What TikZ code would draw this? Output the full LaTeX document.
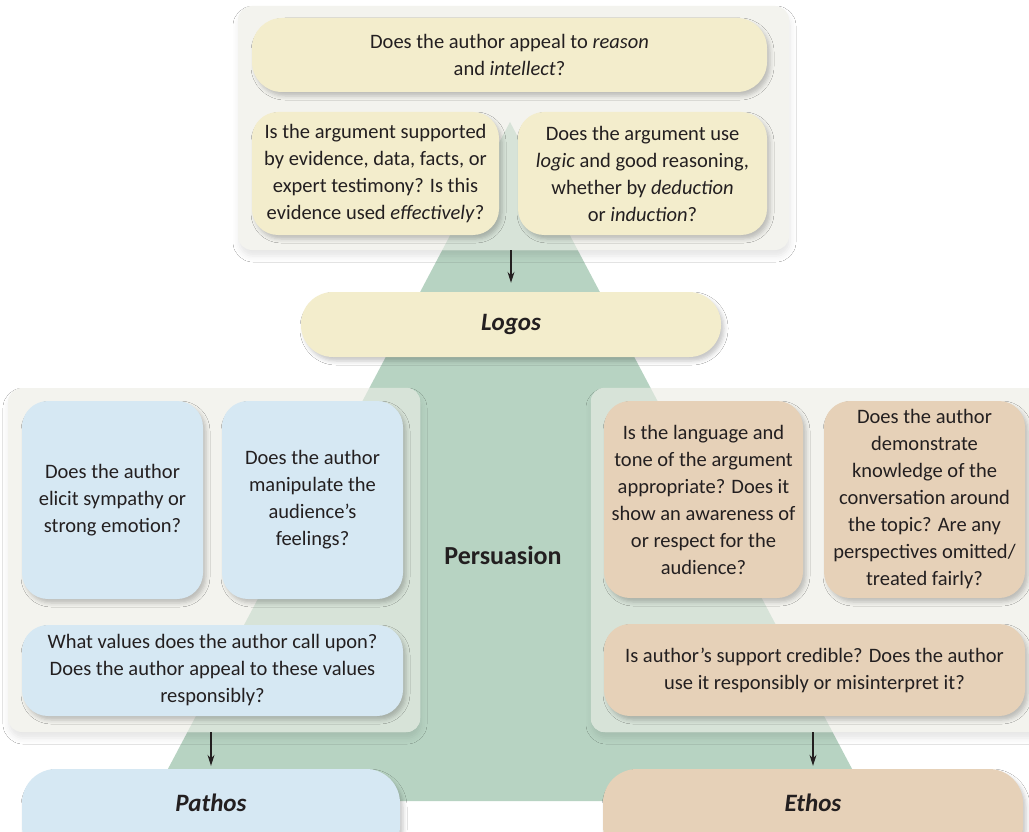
\documentclass[tikz,border=0pt]{standalone}
\usepackage{fontspec}
\setmainfont{Carlito}
\usetikzlibrary{arrows.meta,shadows.blur}
\definecolor{ink}{HTML}{231F20}
\definecolor{trigreen}{HTML}{B7D3C2}
\definecolor{trilight}{HTML}{D7E3D8}
\definecolor{panelgray}{HTML}{F3F3EE}
\definecolor{logosfill}{HTML}{F3EDCC}
\definecolor{pathosfill}{HTML}{D6E8F3}
\definecolor{ethosfill}{HTML}{E6D1B8}
\newcommand\qtext{\fontsize{20.5}{27}\selectfont}
\newcommand\headtext{\fontsize{25}{30}\selectfont\bfseries\itshape}
\tikzset{
  qbox/.style={rounded corners=26pt, inner sep=0pt, align=center, font=\qtext, text=ink,
    blur shadow={shadow xshift=3pt, shadow yshift=-4pt, shadow blur radius=4pt, shadow opacity=22}},
  panel/.style={fill=panelgray, rounded corners=14pt, inner sep=0pt,
    blur shadow={shadow xshift=1pt, shadow yshift=-6pt, shadow blur radius=6pt, shadow opacity=10}},
  arr/.style={-{Stealth[length=11pt,width=7pt]}, line width=1.1pt, draw=ink},
  head/.style={font=\headtext, text=ink, inner sep=0pt},
}
\begin{document}
\begin{tikzpicture}[x=1pt,y=-1pt]
\useasboundingbox (0,0) rectangle (1029,832);
\clip (0,0) rectangle (1029,832);
\fill[white] (0,0) rectangle (1029,832);

% the persuasion triangle
\coordinate (apex) at (510,122);
\coordinate (bl) at (151,801);
\coordinate (br) at (869,801);
\fill[trigreen] (apex) -- (bl) -- (br) -- cycle;

% grey panels behind each group of questions
\node[panel, minimum width=551pt, minimum height=244pt] (tpanel) at (513.5,128) {};
\node[panel, minimum width=412pt, minimum height=344pt] (lpanel) at (214,560) {};
\node[panel, minimum width=459pt, minimum height=344pt] (rpanel) at (820.5,560) {};
\begin{scope}
  \clip[rounded corners=14pt] (tpanel.south west) rectangle (tpanel.north east)
    (lpanel.south west) rectangle (lpanel.north east)
    (rpanel.south west) rectangle (rpanel.north east);
  \fill[trilight] (apex) -- (bl) -- (br) -- cycle;
\end{scope}

% logos questions
\node[qbox, fill=logosfill, rounded corners=30pt, minimum width=515pt, minimum height=74pt] (qa) at (509.5,55)
  {Does the author appeal to \textit{reason}\\ and \textit{intellect}?};
\node[qbox, fill=logosfill, minimum width=247pt, minimum height=123pt] (qb) at (375.5,173.5)
  {Is the argument supported\\ by evidence, data, facts, or\\ expert testimony? Is this\\ evidence used \textit{effectively}?};
\node[qbox, fill=logosfill, minimum width=249pt, minimum height=123pt] (qc) at (642.5,173.5)
  {Does the argument use\\ \textit{logic} and good reasoning,\\ whether by \textit{deduction}\\ or \textit{induction}?};
\node[qbox, fill=logosfill, rounded corners=32pt, minimum width=420pt, minimum height=65pt, font=\headtext] (logos) at (511,324.5) {Logos};

% pathos questions
\node[qbox, fill=pathosfill, minimum width=181pt, minimum height=198pt] (l1) at (112.5,500)
  {Does the author\\ elicit sympathy or\\ strong emotion?};
\node[qbox, fill=pathosfill, minimum width=181pt, minimum height=198pt] (l2) at (312.5,500)
  {Does the author\\ manipulate the\\ audience’s\\ feelings?};
\node[qbox, fill=pathosfill, minimum width=381pt, minimum height=91pt] (l3) at (212.5,670.5)
  {What values does the author call upon?\\ Does the author appeal to these values\\ responsibly?};

% ethos questions
\node[qbox, fill=ethosfill, minimum width=199pt, minimum height=197pt] (r1) at (703.5,499.5)
  {Is the language and\\ tone of the argument\\ appropriate? Does it\\ show an awareness of\\ or respect for the\\ audience?};
\node[qbox, fill=ethosfill, minimum width=201pt, minimum height=197pt] (r2) at (924.5,499.5)
  {Does the author\\ demonstrate\\ knowledge of the\\ conversation around\\ the topic? Are any\\ perspectives omitted/\\ treated fairly?};
\node[qbox, fill=ethosfill, minimum width=421pt, minimum height=92pt] (r3) at (814.5,670)
  {Is author’s support credible? Does the author\\ use it responsibly or misinterpret it?};

% bottom labels
\node[qbox, fill=pathosfill, rounded corners=34pt, minimum width=378pt, minimum height=91pt] (pathos) at (211,814.5) {};
\node[qbox, fill=ethosfill, rounded corners=34pt, minimum width=420pt, minimum height=91pt] (ethos) at (813,814.5) {};
\node[head] (pathoslbl) at ([yshift=-34pt]pathos.north) {Pathos};
\node[head] (ethoslbl) at ([yshift=-34pt]ethos.north) {Ethos};

\node[font=\fontsize{26}{30}\selectfont\bfseries, text=ink] (persuasion) at (503,555) {Persuasion};

% arrows
\draw[arr, shorten >=9pt] (tpanel.south -| logos.north) -- (logos.north);
\draw[arr, shorten >=3pt] (lpanel.south -| pathos.north) -- (pathos.north);
\draw[arr, shorten >=3pt] (rpanel.south -| ethos.north) -- (ethos.north);
\end{tikzpicture}
\end{document}
